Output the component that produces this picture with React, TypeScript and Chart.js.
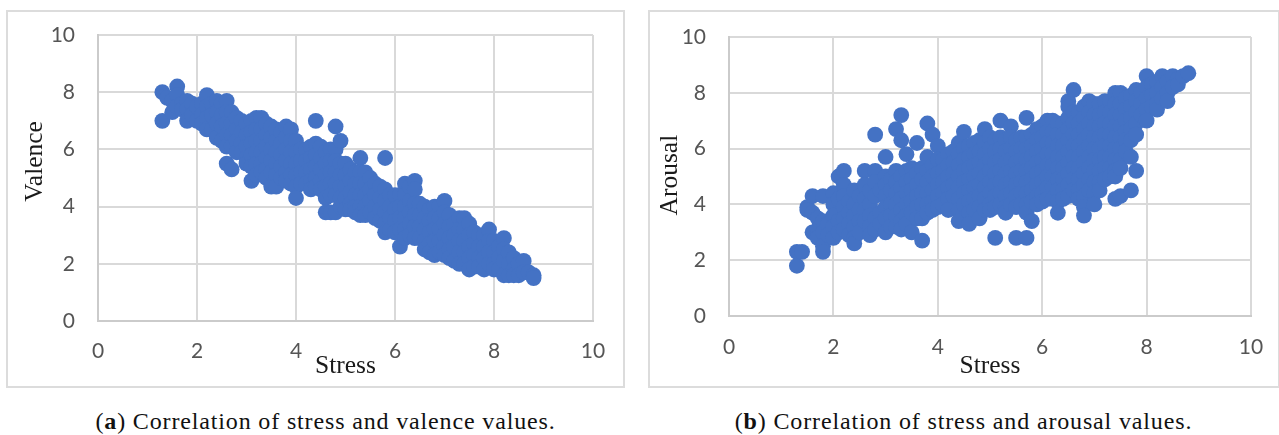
import React, { useEffect, useRef } from "react";
import { Chart, registerables } from "chart.js";

Chart.register(...registerables);

type Column = [number, number[]];

const axisTicks = [0, 2, 4, 6, 8, 10];
const xLabel = "Stress";
const captionA = "Correlation of stress and valence values.";
const captionB = "Correlation of stress and arousal values.";

const valenceByStress: Column[] = [
  [1.3, [8, 7]], [1.4, [7.8]], [1.5, [7.7, 7.3]], [1.6, [8.2, 7.9, 7.5]], [1.7, [7.6, 7.4]],
  [1.8, [7.7, 7.4, 7]], [1.9, [7.6, 7.2]], [2, [7.5, 7]], [2.1, [7.6, 7.2, 6.9]],
  [2.2, [7.9, 7.5, 7.1, 6.7]], [2.3, [7.6, 7.2, 6.7]], [2.4, [7.7, 7.3, 6.9, 6.4]],
  [2.5, [7.6, 7.2, 6.8, 6.3]], [2.6, [7.7, 7.3, 6.9, 6.5, 6.1, 5.5]], [2.7, [7.3, 6.9, 6.5, 6.1, 5.3]],
  [2.8, [7.1, 6.7, 6.3, 5.9]], [2.9, [7, 6.6, 6.2, 5.9]], [3, [6.9, 6.5, 6.1, 5.7, 5.5]],
  [3.1, [7, 6.6, 6.2, 5.8, 5.4, 4.9]], [3.2, [7.1, 6.7, 6.3, 5.9, 5.5, 5.1]], [3.3, [7.1, 6.7, 6.3, 5.9, 5.5, 5.2]],
  [3.4, [6.9, 6.5, 6.1, 5.7, 5.3, 5]], [3.5, [6.8, 6.4, 6, 5.6, 5.2, 4.7]], [3.6, [6.7, 6.3, 5.9, 5.5, 5.1, 4.7]],
  [3.7, [6.6, 6.2, 5.8, 5.4, 5]], [3.8, [6.8, 6.4, 6, 5.6, 5.2, 4.9]], [3.9, [6.7, 6.3, 5.9, 5.5, 5.1, 4.8]],
  [4, [6.3, 5.9, 5.5, 5.1, 4.7, 4.3]], [4.1, [6, 5.6, 5.2, 4.8]], [4.2, [6, 5.6, 5.2, 4.8]],
  [4.3, [6.1, 5.7, 5.3, 4.9, 4.6]], [4.4, [7, 6.2, 5.8, 5.4, 5, 4.7]], [4.5, [6.1, 5.7, 5.3, 4.9, 4.6]],
  [4.6, [5.9, 5.5, 5.1, 4.7, 4.3, 3.8]], [4.7, [6, 5.6, 5.2, 4.8, 4.4, 3.8]], [4.8, [6.8, 6, 5.6, 5.2, 4.8, 4.4, 3.8]],
  [4.9, [6.3, 5.5, 5.1, 4.7, 4.3, 4]], [5, [5.5, 5.1, 4.7, 4.3, 3.9]], [5.1, [5.3, 4.9, 4.5, 4.1, 3.9]],
  [5.2, [5.2, 4.8, 4.4, 4, 3.8]], [5.3, [5.7, 5.2, 4.8, 4.4, 4, 3.7]], [5.4, [5.2, 4.8, 4.4, 4, 3.7]],
  [5.5, [5, 4.6, 4.2, 3.8]], [5.6, [4.8, 4.4, 4, 3.6]], [5.7, [4.7, 4.3, 3.9, 3.5]],
  [5.8, [5.7, 4.6, 4.2, 3.8, 3.4, 3.1]], [5.9, [4.4, 4, 3.6, 3.2]], [6, [4.4, 3.9, 3.5, 3.1]],
  [6.1, [4.4, 4, 3.6, 3.2, 2.6]], [6.2, [4.8, 4.4, 4, 3.6, 3.2, 2.9]], [6.3, [4.7, 4.2, 3.8, 3.4, 3]],
  [6.4, [4.9, 4.6, 4.1, 3.7, 3.3, 2.9]], [6.5, [4.1, 3.7, 3.3, 2.9]], [6.6, [4, 3.6, 3.2, 2.8, 2.5]],
  [6.7, [3.9, 3.5, 3.1, 2.7, 2.4]], [6.8, [4, 3.6, 3.2, 2.8, 2.3]], [6.9, [4, 3.6, 3.2, 2.8, 2.4]],
  [7, [4.2, 3.8, 3.4, 3, 2.6, 2.3]], [7.1, [3.7, 3.3, 2.9, 2.5, 2.2]], [7.2, [3.4, 3, 2.6, 2.1]],
  [7.3, [3.6, 3.2, 2.8, 2.4, 2]], [7.4, [3.6, 3.2, 2.8, 2.4, 2]], [7.5, [3.4, 3, 2.6, 2.2, 1.8]],
  [7.6, [3.1, 2.7, 2.3, 1.9]], [7.7, [3, 2.6, 2.2, 1.9]], [7.8, [3, 2.6, 2.2, 1.8]],
  [7.9, [3.2, 2.8, 2.4, 2]], [8, [2.8, 2.4, 2, 1.8]], [8.1, [2.6, 2.2, 1.8]],
  [8.2, [2.9, 2.5, 2.1, 1.6]], [8.3, [2.4, 2, 1.6]], [8.4, [2.2, 1.8, 1.6]],
  [8.5, [2, 1.6]], [8.6, [2.1, 1.7]], [8.7, [1.7]], [8.8, [1.6, 1.5]],
];

const arousalByStress: Column[] = [
  [1.3, [2.3, 1.8]], [1.4, [2.3]], [1.5, [3.9, 3.8]], [1.6, [4.3, 3.7, 3]], [1.7, [3.5, 3.1, 2.8]],
  [1.8, [4.3, 3.4, 3, 2.5, 2.3]], [1.9, [3.3, 2.9]], [2, [4.4, 4, 3.6, 3.2, 2.8]],
  [2.1, [5, 4.2, 3.4, 3]], [2.2, [5.2, 4.7, 4.3, 3.9, 3.5, 3.1]], [2.3, [4.1, 3.7, 3.3, 2.9]],
  [2.4, [4.5, 4, 3.6, 3.2, 2.8, 2.6]], [2.5, [4.3, 3.8, 3.4, 3]], [2.6, [5.2, 4.7, 4.2, 3.8, 3.4]],
  [2.7, [4.5, 4, 3.6, 3.2, 2.9]], [2.8, [6.5, 5.2, 4.8, 4.3, 3.5, 3.1]], [2.9, [4.5, 3.7, 3.3]],
  [3, [5.7, 5, 4.7, 4.3, 3.9, 3.5, 3]], [3.1, [4.9, 4.5, 4, 3.6, 3.2]], [3.2, [6.7, 5.2, 4.8, 4.4, 4, 3.6, 3.2]],
  [3.3, [7.2, 6.3, 5, 4.6, 4.2, 3.8, 3.4, 3.1]], [3.4, [5.8, 5.2, 4.8, 4.4, 4, 3.6, 3.3]],
  [3.5, [5.3, 4.9, 4.5, 4.1, 3.7, 3]], [3.6, [6.2, 5.1, 4.7, 4.3, 3.9, 3.5]], [3.7, [5.3, 4.9, 4.4, 4, 3.5, 2.7]],
  [3.8, [6.9, 5.7, 5.2, 4.8, 4.4, 4, 3.7]], [3.9, [6.5, 5.4, 5, 4.5, 4.1, 3.8]], [4, [6.1, 5.6, 5.1, 4.7, 4.3, 3.9]],
  [4.1, [5.6, 5.2, 4.8, 4.4, 4]], [4.2, [5.8, 5.4, 5, 4.6, 4.2, 3.8]], [4.3, [5.9, 5.5, 5.1, 4.7, 4.3]],
  [4.4, [6.2, 5.8, 5.4, 5, 4.6, 4.2, 3.8, 3.4]], [4.5, [6.6, 6, 5.6, 5.2, 4.8, 4.4, 4]], [4.6, [6.1, 5.7, 5.3, 4.9, 4.5, 4.1, 3.7, 3.3]],
  [4.7, [6.2, 5.8, 5.4, 5, 4.6, 4.2, 3.8]], [4.8, [6.3, 5.9, 5.5, 5.1, 4.7, 4.3, 3.9, 3.5]], [4.9, [6.7, 6.2, 5.8, 5.4, 5, 4.6, 4.2, 3.8]],
  [5, [6.4, 6, 5.6, 5.2, 4.8, 4.4, 4, 3.8]], [5.1, [6.3, 5.9, 5.5, 5.1, 4.7, 4.3, 3.9, 2.8]], [5.2, [7, 6.4, 6, 5.6, 5.2, 4.8, 4.4, 4]],
  [5.3, [6.3, 5.9, 5.5, 5.1, 4.7, 4.3, 3.9, 3.7]], [5.4, [6.8, 6.4, 6, 5.6, 5.2, 4.8, 4.4, 4]], [5.5, [6.3, 5.9, 5.5, 5.1, 4.7, 4.3, 3.9, 2.8]],
  [5.6, [6.4, 6, 5.6, 5.2, 4.8, 4.4, 4]], [5.7, [7.1, 6.4, 6, 5.6, 5.2, 4.8, 4.4, 4, 3.7, 2.8]], [5.8, [6.5, 6.1, 5.7, 5.3, 4.9, 4.5, 4.1, 3.4]],
  [5.9, [6.7, 6.3, 5.9, 5.5, 5.1, 4.7, 4.3, 4]], [6, [6.8, 6.4, 6, 5.6, 5.2, 4.8, 4.4, 4.1]], [6.1, [7, 6.6, 6.2, 5.8, 5.4, 5, 4.6, 4.2]],
  [6.2, [7, 6.6, 6.2, 5.8, 5.4, 5, 4.6, 4.2]], [6.3, [6.9, 6.5, 6.1, 5.7, 5.3, 4.9, 4.5, 4.1, 3.7]], [6.4, [6.9, 6.5, 6.1, 5.7, 5.3, 4.9, 4.5, 4.2]],
  [6.5, [7.7, 7.5, 7.1, 6.7, 6.3, 5.9, 5.5, 5.1, 4.7, 4.3]], [6.6, [8.1, 7.3, 6.9, 6.5, 6.1, 5.7, 5.3, 4.9, 4.5]], [6.7, [7.3, 6.9, 6.5, 6.1, 5.7, 5.3, 4.9, 4.5, 4.2]],
  [6.8, [7.5, 7.1, 6.7, 6.3, 5.9, 5.5, 5.1, 4.7, 4.3, 3.9, 3.6]], [6.9, [7.7, 7.3, 6.9, 6.5, 6.1, 5.7, 5.3, 4.9, 4.5]], [7, [7.6, 7.2, 6.8, 6.4, 6, 5.6, 5.2, 4.8, 4.4, 4]],
  [7.1, [7.6, 7.2, 6.8, 6.4, 6, 5.6, 5.2, 4.8, 4.5]], [7.2, [7.7, 7.3, 6.9, 6.5, 6.1, 5.7, 5.3, 4.9]], [7.3, [7.7, 7.3, 6.9, 6.5, 6.1, 5.7, 5.3, 5]],
  [7.4, [8, 7.6, 7.2, 6.8, 6.4, 6, 5.6, 5.2, 5, 4.2]], [7.5, [8, 7.6, 7.2, 6.8, 6.4, 6, 5.6, 5.3, 4.3]], [7.6, [7.8, 7.4, 7, 6.6, 6.3, 5.9]],
  [7.7, [7.9, 7.5, 7.1, 6.7, 6.3, 5.7, 4.5]], [7.8, [8.1, 7.7, 7.3, 6.9, 6.5, 5.2]], [7.9, [8, 7.6, 7.2]],
  [8, [8.6, 8.2, 7.8, 7.4, 7]], [8.1, [8.3, 7.9, 7.5]], [8.2, [8.4, 8, 7.6, 7.4]], [8.3, [8.6, 8.2, 7.8]],
  [8.4, [8.4, 8, 7.7]], [8.5, [8.6, 8.2]], [8.6, [8.5, 8.3]], [8.7, [8.6]], [8.8, [8.7]],
];

const toPoints = (cols: Column[]) => cols.flatMap(([x, ys]) => ys.map((y) => ({ x, y })));

const yTitlePlugin = {
  id: "yTitle",
  afterDraw(chart: any, _a: any, o: any) {
    const { ctx } = chart;
    ctx.save();
    ctx.translate(o.x, chart.scales.y.getPixelForValue(o.centerValue));
    ctx.rotate(-Math.PI / 2);
    ctx.font = "25.5px 'Liberation Serif'";
    ctx.fillStyle = "#1a1a1a";
    ctx.textAlign = "center";
    ctx.textBaseline = "middle";
    ctx.fillText(o.text, 0, 0);
    ctx.restore();
  },
};

function Panel(props: {
  box: [number, number, number, number];
  cols: Column[];
  yName: string;
  yCenter: number;
  titleX: number;
  yW: number;
  xH: number;
  padTop: number;
  padRight: number;
  xTickPad: number;
}) {
  const ref = useRef<HTMLCanvasElement>(null);
  const p = props;
  useEffect(() => {
    const chart = new Chart(ref.current!, {
      type: "scatter",
      data: {
        datasets: [
          { label: p.yName, data: toPoints(p.cols), backgroundColor: "#4472C4", borderWidth: 0, pointRadius: 7.9, pointHoverRadius: 7.9 },
        ],
      },
      plugins: [yTitlePlugin],
      options: {
        animation: false,
        responsive: false,
        layout: { padding: { top: p.padTop, right: p.padRight, left: 0, bottom: 0 } },
        plugins: {
          legend: { display: false },
          tooltip: { enabled: false },
          yTitle: { text: p.yName, x: p.titleX, centerValue: p.yCenter },
        } as any,
        scales: {
          x: {
            type: "linear",
            min: 0,
            max: 10,
            afterBuildTicks: (s: any) => { s.ticks = axisTicks.map((value) => ({ value })); },
            afterFit: (s: any) => { s.height = p.xH; s.paddingLeft = 0; s.paddingRight = 0; },
            ticks: { color: "#555555", font: { family: "Lato", size: 21 }, padding: p.xTickPad, maxRotation: 0 },
            grid: { color: "#d9d9d9", lineWidth: 2, drawTicks: false },
            border: { color: "#cbcbcb", width: 2 },
            title: { display: true, text: xLabel, color: "#1a1a1a", font: { family: "Liberation Serif", size: 25.5, lineHeight: 1.2 }, padding: { top: 0, bottom: 4 } },
          },
          y: {
            type: "linear",
            min: 0,
            max: 10,
            afterBuildTicks: (s: any) => { s.ticks = axisTicks.map((value) => ({ value })); },
            afterFit: (s: any) => { s.width = p.yW; s.paddingTop = 0; s.paddingBottom = 0; },
            ticks: { color: "#555555", font: { family: "Lato", size: 21 }, padding: 23 },
            grid: { color: "#d9d9d9", lineWidth: 2, drawTicks: false },
            border: { color: "#cbcbcb", width: 2 },
          },
        },
      },
    });
    return () => chart.destroy();
  }, []);
  const [left, top, w, h] = p.box;
  return (
    <div style={{ position: "absolute", left, top, width: w, height: h, border: "2px solid #dcdcdc", background: "#fff" }}>
      <canvas ref={ref} width={w} height={h} style={{ display: "block", width: w, height: h }} />
    </div>
  );
}

function Caption(props: { letter: string; text: string; center: number }) {
  return (
    <div
      style={{
        position: "absolute",
        left: props.center - 300,
        width: 600,
        top: 408,
        textAlign: "center",
        font: "24px 'Liberation Serif'",
        letterSpacing: "0.85px",
        color: "#111",
        whiteSpace: "nowrap",
      }}
    >
      (<b>{props.letter}</b>) {props.text}
    </div>
  );
}

export default function App() {
  return (
    <div style={{ position: "absolute", left: 0, top: 0, width: 1279, height: 435, background: "#fff", overflow: "hidden" }}>
      <Panel box={[6, 10, 615, 374]} cols={valenceByStress} yName="Valence" yCenter={5.58} titleX={27} yW={90} xH={65} padTop={23} padRight={30} xTickPad={18} />
      <Panel box={[648, 10, 628, 374]} cols={arousalByStress} yName="Arousal" yCenter={5.05} titleX={20} yW={79} xH={70} padTop={25} padRight={27} xTickPad={19} />
      <Caption letter="a" text={captionA} center={325.5} />
      <Caption letter="b" text={captionB} center={963.5} />
    </div>
  );
}
